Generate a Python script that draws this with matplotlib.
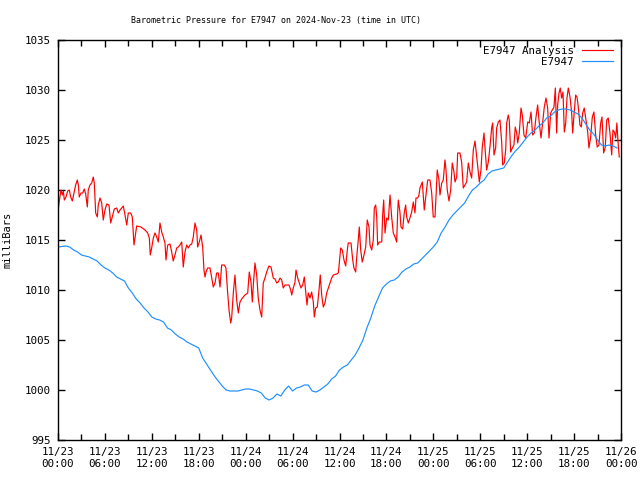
import numpy as np
import pandas as pd
import matplotlib
matplotlib.use("Agg")
import matplotlib.pyplot as plt
import matplotlib.dates as mdates

# Station observations (E7947), every 30 minutes from 2024-11-23 00:00 UTC
obs_start = "2024-11-23 00:00"
obs_mb = [
    1014.3, 1014.35, 1014.4, 1014.3, 1014.0, 1013.8, 1013.5, 1013.4, 1013.3, 1013.1,
    1012.9, 1012.5, 1012.2, 1012.0, 1011.7, 1011.3, 1011.1, 1010.9, 1010.2, 1009.7,
    1009.1, 1008.7, 1008.2, 1007.8, 1007.3, 1007.1, 1007.0, 1006.8, 1006.2, 1006.0,
    1005.6, 1005.3, 1005.1, 1004.8, 1004.6, 1004.4, 1004.2, 1003.2, 1002.6, 1002.0,
    1001.4, 1000.9, 1000.4, 1000.0, 999.9, 999.9, 999.9, 1000.0, 1000.1, 1000.1,
    1000.0, 999.9, 999.7, 999.2, 999.0, 999.2, 999.6, 999.4, 1000.0, 1000.4,
    999.9, 1000.2, 1000.3, 1000.5, 1000.5, 999.9, 999.8, 1000.0, 1000.3, 1000.6,
    1001.1, 1001.4, 1002.0, 1002.3, 1002.5, 1003.0, 1003.5, 1004.2, 1005.0, 1006.2,
    1007.2, 1008.4, 1009.3, 1010.2, 1010.6, 1010.9, 1011.0, 1011.3, 1011.8, 1012.1,
    1012.3, 1012.6, 1012.7, 1013.1, 1013.5, 1013.9, 1014.3, 1014.8, 1015.7, 1016.3,
    1017.0, 1017.5, 1017.9, 1018.3, 1018.7, 1019.4, 1020.0, 1020.3, 1020.7, 1021.0,
    1021.6, 1021.9, 1022.0, 1022.1, 1022.2, 1022.8, 1023.4, 1023.9, 1024.3, 1024.8,
    1025.3, 1025.7, 1026.0, 1026.4, 1026.7, 1027.2, 1027.4, 1027.8, 1028.0, 1028.1,
    1028.1, 1028.0, 1027.8, 1027.6, 1027.2, 1026.6, 1026.0, 1025.6, 1025.0, 1024.5,
    1024.4, 1024.5, 1024.4, 1024.2,
]

# Analysis series: hours after start and pressure
ana_hours = [
    0.04, 0.13, 0.38, 0.55, 0.68, 0.81, 1.02, 1.24, 1.45, 1.62, 1.83, 2.05, 2.26, 2.47,
    2.60, 2.72, 2.94, 3.16, 3.36, 3.54, 3.75, 3.87, 4.09, 4.31, 4.51, 4.64, 4.82, 5.03,
    5.15, 5.37, 5.59, 5.79, 6.01, 6.23, 6.52, 6.74, 6.94, 7.20, 7.51, 7.71, 7.93, 8.15,
    8.35, 8.57, 8.79, 8.99, 9.30, 9.50, 9.72, 9.85, 10.06, 10.61, 11.13, 11.47, 11.68,
    11.80, 11.98, 12.19, 12.40, 12.62, 12.83, 13.04, 13.26, 13.47, 13.68, 13.81, 14.03,
    14.32, 14.54, 14.74, 14.96, 15.18, 15.38, 15.60, 15.82, 16.02, 16.24, 16.46, 16.66,
    16.88, 17.10, 17.30, 17.52, 17.74, 17.86, 18.07, 18.29, 18.50, 18.67,
    18.80, 18.93, 19.14, 19.44, 19.66, 19.86, 20.08, 20.29, 20.50, 20.72, 20.93, 21.27,
    21.48, 21.70, 21.87, 22.09, 22.21, 22.42, 22.63, 22.85, 23.06, 23.27, 23.49, 23.91,
    24.26, 24.46, 24.68, 24.85, 24.98, 25.19, 25.41, 25.61, 25.83, 26.05, 26.25, 26.47,
    26.69, 26.98, 27.24, 27.53, 27.75, 27.97, 28.17, 28.39, 28.61, 28.81, 29.03, 29.54,
    29.76, 29.89, 30.09, 30.31, 30.44, 30.65, 30.86, 31.07, 31.29, 31.50, 31.71, 31.84,
    32.01, 32.23, 32.44, 32.65, 32.78, 32.95, 33.16, 33.38, 33.54, 33.72, 33.93, 34.14,
    34.36, 34.57, 34.78, 35.00, 35.21, 35.64, 35.84,
    35.93, 36.15, 36.36, 36.57, 36.79, 37.00, 37.12, 37.47, 37.69, 37.85, 38.07, 38.19,
    38.40, 38.53, 38.71, 38.91, 39.13, 39.35, 39.55, 39.77, 39.90, 40.12, 40.32, 40.45,
    40.63, 40.76, 40.88, 41.09, 41.40, 41.52, 41.65, 41.82, 42.03, 42.24, 42.46, 42.67,
    42.88, 43.10, 43.31, 43.44, 43.52, 43.73, 43.86, 44.08, 44.28, 44.46, 44.59, 44.80,
    45.01, 45.23, 45.44, 45.65, 45.78, 46.00, 46.16, 46.29, 46.59, 46.84, 47.02, 47.28,
    47.57, 47.79, 47.99, 48.21, 48.34, 48.50, 48.72, 48.85, 49.07, 49.27, 49.49, 49.62,
    49.78, 50.00, 50.22, 50.42, 50.64, 50.77, 50.99, 51.11, 51.41, 51.62, 51.83, 52.05,
    52.26, 52.47, 52.69, 52.90, 53.11, 53.33, 53.54, 53.75, 53.88, 54.09, 54.26, 54.48,
    54.60, 54.82, 55.03, 55.24, 55.46, 55.59, 55.76, 55.97, 56.10, 56.31, 56.52, 56.74,
    56.87, 57.07, 57.25, 57.38, 57.58, 57.71, 57.89, 58.10, 58.31, 58.48, 58.66, 58.79,
    58.99, 59.21, 59.38, 59.59, 59.81, 60.07, 60.27, 60.49, 60.70, 60.91, 61.13, 61.34,
    61.55, 61.77, 61.98, 62.19, 62.41, 62.62, 62.79, 63.01, 63.21, 63.43, 63.60, 63.77,
    63.90, 64.07, 64.23, 64.41, 64.58, 64.75, 64.93, 65.09, 65.26, 65.48, 65.69, 65.82,
    65.99, 66.20, 66.37, 66.54, 66.75, 66.92, 67.10, 67.30, 67.48, 67.74, 67.90, 68.12,
    68.33, 68.54, 68.76, 68.96, 69.18, 69.40, 69.57, 69.78, 69.99, 70.17, 70.37, 70.59,
    70.81, 70.97, 71.14, 71.32, 71.47, 71.65, 71.78,
]
ana_mb = [
    1018.1, 1018.7, 1020.0, 1019.5, 1019.9, 1019.0, 1019.3, 1019.9, 1020.0, 1019.3, 1018.9, 1019.7, 1020.5, 1021.0,
    1020.5, 1019.3, 1019.7, 1019.7, 1020.1, 1019.6, 1018.3, 1020.0, 1020.5, 1020.7, 1021.3, 1020.7, 1017.7, 1017.3,
    1018.5, 1019.2, 1018.7, 1017.0, 1018.0, 1018.6, 1018.5, 1016.7, 1017.3, 1018.1, 1018.2, 1017.7, 1018.0, 1018.2,
    1018.4, 1017.5, 1016.5, 1017.7, 1017.7, 1017.3, 1014.5, 1015.2, 1016.4, 1016.3, 1016.0, 1015.7, 1015.2,
    1013.5, 1014.2, 1015.2, 1015.7, 1015.3, 1014.8, 1016.7, 1015.8, 1015.3, 1014.7, 1013.0, 1014.5,
    1014.6, 1013.8, 1012.9, 1013.5, 1014.2, 1014.3, 1014.5, 1014.8, 1012.3, 1013.8, 1014.5, 1014.2,
    1014.5, 1014.6, 1015.3, 1016.7, 1016.0, 1014.3, 1014.8, 1015.5, 1014.3, 1012.0,
    1011.3, 1011.8, 1012.2, 1012.2, 1011.2, 1010.3, 1010.7, 1011.7, 1011.7, 1010.3, 1012.5, 1012.5,
    1012.2, 1009.7, 1008.0, 1006.7, 1007.2, 1009.7, 1011.5, 1009.0, 1007.7, 1008.8, 1009.1, 1009.5,
    1009.7, 1011.8, 1010.8, 1008.8, 1010.5, 1012.7, 1011.5, 1009.2, 1008.0, 1007.3, 1010.7, 1011.2,
    1011.8, 1012.4, 1012.3, 1011.2, 1011.1, 1010.7, 1010.8, 1011.2, 1011.0, 1010.2, 1010.5, 1010.5,
    1010.0, 1009.5, 1010.2, 1010.8, 1012.0, 1011.2, 1010.7, 1010.2, 1010.5, 1011.3, 1009.5, 1008.5,
    1009.7, 1009.2, 1009.8, 1008.8, 1007.3, 1008.2, 1008.3, 1010.0, 1011.5, 1009.5, 1008.3, 1008.7,
    1009.7, 1010.2, 1010.7, 1011.2, 1011.5, 1011.6, 1011.7,
    1012.3, 1014.2, 1014.0, 1013.0, 1012.4, 1014.0, 1014.7, 1014.7, 1013.0, 1012.2, 1011.8, 1013.2,
    1015.0, 1016.3, 1014.0, 1012.8, 1013.5, 1014.3, 1017.0, 1016.3, 1014.5, 1014.0, 1015.0, 1018.2,
    1018.5, 1017.3, 1014.5, 1014.8, 1014.8, 1017.5, 1019.0, 1015.7, 1017.2, 1017.0, 1019.5, 1017.3,
    1015.7, 1015.3, 1014.8, 1017.8, 1019.0, 1017.8, 1016.3, 1016.1, 1017.7, 1018.5, 1017.3, 1016.7,
    1017.2, 1017.8, 1018.8, 1017.7, 1019.2, 1019.2, 1019.5, 1020.2, 1020.8, 1018.0, 1019.2, 1021.0,
    1021.0, 1019.7, 1017.3, 1017.3, 1019.3, 1022.0, 1021.0, 1019.5, 1020.7, 1021.0, 1023.0, 1022.0,
    1020.0, 1018.9, 1020.0, 1022.7, 1021.8, 1020.8, 1021.3, 1023.7, 1023.7, 1022.8, 1020.2, 1020.5,
    1020.8, 1022.7, 1021.8, 1021.2, 1024.0, 1024.9, 1023.4, 1021.8, 1020.8, 1022.0, 1024.3, 1025.7,
    1024.3, 1022.0, 1022.8, 1024.3, 1026.2, 1026.7, 1023.5, 1024.2, 1026.2, 1026.8, 1027.0, 1024.8,
    1022.5, 1022.7, 1024.0, 1026.7, 1027.5, 1027.0, 1023.8, 1024.2, 1024.5, 1026.3, 1025.7, 1024.7,
    1025.7, 1028.2, 1027.5, 1025.5, 1025.2, 1026.8, 1026.7, 1027.8, 1025.5, 1025.7, 1027.3, 1028.5,
    1026.7, 1025.2, 1026.7, 1028.3, 1029.2, 1028.2, 1025.2, 1027.7, 1028.0, 1028.3, 1030.2, 1025.7,
    1028.5, 1029.7, 1030.2, 1029.2, 1029.8, 1025.8, 1026.7, 1029.2, 1030.2, 1029.3, 1027.7, 1025.7,
    1027.5, 1029.5, 1029.3, 1028.3, 1026.5, 1026.3, 1027.7, 1028.2, 1027.2, 1025.8, 1024.2, 1025.3,
    1027.3, 1027.8, 1025.5, 1024.3, 1024.5, 1026.7, 1027.3, 1023.7, 1024.3, 1027.0, 1027.2, 1025.7,
    1023.5, 1026.0, 1025.8, 1025.2, 1026.7, 1024.5, 1023.3,
]

t0 = pd.Timestamp(obs_start)
obs_time = pd.date_range(t0, periods=len(obs_mb), freq="30min")
ana_time = t0 + pd.to_timedelta(ana_hours, unit="h")

plt.rcParams["font.family"] = ["DejaVu Sans Mono"]

fig = plt.figure(figsize=(6.4, 4.8), dpi=100)
ax = fig.add_axes([58 / 640, 40 / 480, 563 / 640, 400 / 480])

ax.plot(ana_time, ana_mb, color="#ff0000", lw=0.85, label="E7947 Analysis")
ax.plot(obs_time, obs_mb, color="#1e8fff", lw=0.85, label="E7947")

ax.set_xlim(t0, t0 + pd.Timedelta(hours=72))
ax.set_ylim(995, 1035)
ax.set_yticks(np.arange(995, 1036, 5))

ax.xaxis.set_major_locator(mdates.HourLocator(byhour=range(0, 24, 6)))
ax.xaxis.set_minor_locator(mdates.HourLocator(byhour=range(3, 24, 6)))
ax.xaxis.set_major_formatter(mdates.DateFormatter("%m/%d\n%H:%M"))

ax.tick_params(which="both", direction="in", top=True, right=True, width=1,
               labelsize=7.8, colors="black")
ax.tick_params(which="major", length=5)
ax.tick_params(which="minor", length=4)
ax.tick_params(axis="y", pad=5)
ax.tick_params(axis="x", pad=5)
for s in ax.spines.values():
    s.set_linewidth(1)

ax.set_ylabel("milliBars", fontsize=7.5, labelpad=9)
fig.text(276 / 640, 1 - 20 / 480, "Barometric Pressure for E7947 on 2024-Nov-23 (time in UTC)",
         ha="center", va="center", fontsize=6.0)

leg = ax.legend(loc="upper right", frameon=False, fontsize=7.8, markerfirst=False,
                handlelength=2.9, handletextpad=0.75, labelspacing=0.1,
                borderaxespad=0.3, bbox_to_anchor=(1.0, 1.005))

plt.savefig("out.png", dpi=100)
plt.close()
